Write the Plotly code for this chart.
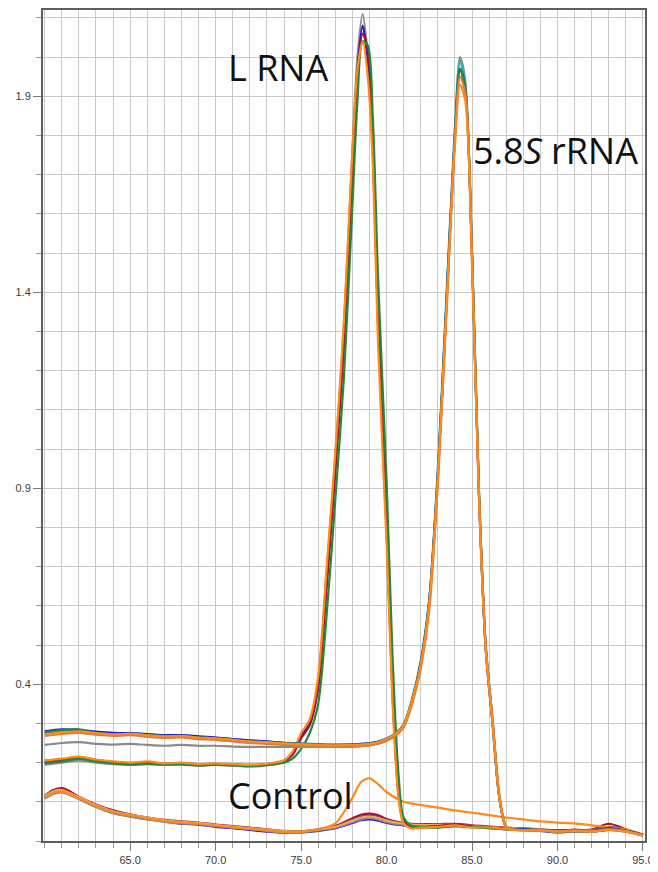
import plotly.graph_objects as go

# ---------------- data ----------------
# L RNA amplicon curves
xL = [60, 61, 62, 63, 64, 65, 66, 67, 68, 69, 70, 71, 72, 73, 74, 74.5, 75, 75.5, 76, 76.5, 77, 77.5,
      78, 78.3, 78.6, 78.9, 79.2, 79.5, 80, 80.35, 80.7, 81, 81.5, 82, 83, 84, 85, 86, 87, 88, 89, 90,
      91, 92, 93, 94, 95]
L_gray = [0.195, 0.2, 0.205, 0.2, 0.196, 0.194, 0.196, 0.194, 0.195, 0.192, 0.194, 0.192, 0.19, 0.193, 0.202, 0.22,
          0.265, 0.30, 0.41, 0.69, 0.98, 1.31, 1.76, 2.00, 2.11, 2.0, 1.78, 1.33, 0.80, 0.37, 0.12, 0.048, 0.035,
          0.034, 0.035, 0.038, 0.035, 0.033, 0.029, 0.028, 0.027, 0.024, 0.026, 0.024, 0.028, 0.024, 0.014]
L_blue = [0.205, 0.208, 0.214, 0.207, 0.201, 0.199, 0.201, 0.197, 0.199, 0.196, 0.197, 0.195, 0.194, 0.196, 0.205, 0.224,
          0.268, 0.30, 0.40, 0.67, 0.96, 1.28, 1.73, 1.97, 2.08, 1.99, 1.76, 1.32, 0.80, 0.38, 0.12, 0.05, 0.036,
          0.035, 0.037, 0.041, 0.036, 0.034, 0.031, 0.03, 0.027, 0.025, 0.027, 0.025, 0.031, 0.025, 0.015]
L_red = [0.2, 0.206, 0.211, 0.206, 0.2, 0.197, 0.2, 0.197, 0.197, 0.195, 0.196, 0.195, 0.193, 0.195, 0.204, 0.22,
         0.262, 0.295, 0.39, 0.65, 0.94, 1.26, 1.71, 1.95, 2.06, 2.02, 1.80, 1.36, 0.83, 0.40, 0.13, 0.05, 0.037,
         0.036, 0.038, 0.042, 0.037, 0.035, 0.031, 0.029, 0.028, 0.026, 0.029, 0.026, 0.033, 0.026, 0.016]
L_green = [0.198, 0.203, 0.210, 0.203, 0.198, 0.195, 0.197, 0.195, 0.196, 0.193, 0.195, 0.193, 0.191, 0.194, 0.2, 0.21,
           0.235, 0.275, 0.35, 0.58, 0.87, 1.18, 1.62, 1.89, 2.04, 2.03, 1.84, 1.44, 0.92, 0.47, 0.17, 0.06, 0.038,
           0.036, 0.034, 0.038, 0.036, 0.033, 0.03, 0.03, 0.028, 0.026, 0.027, 0.024, 0.029, 0.026, 0.016]
L_orange = [0.205, 0.210, 0.215, 0.208, 0.203, 0.200, 0.203, 0.198, 0.200, 0.196, 0.198, 0.196, 0.194, 0.197, 0.206, 0.228,
            0.275, 0.31, 0.42, 0.70, 0.99, 1.32, 1.76, 1.97, 2.04, 1.95, 1.72, 1.27, 0.76, 0.35, 0.11, 0.045, 0.032,
            0.034, 0.036, 0.04, 0.034, 0.035, 0.03, 0.028, 0.027, 0.024, 0.028, 0.026, 0.03, 0.024, 0.015]

# 5.8S rRNA amplicon curves
xS = [60, 61, 62, 63, 64, 65, 66, 67, 68, 69, 70, 71, 72, 73, 74, 75, 76, 77, 78, 79, 79.5, 80, 80.5, 81, 81.5,
      82, 82.5, 83, 83.5, 84, 84.3, 84.6, 85, 85.4, 85.8, 86.2, 86.6, 87, 87.5, 88, 89, 90, 91, 92, 93, 94, 95]
S_gray = [0.245, 0.25, 0.252, 0.248, 0.246, 0.248, 0.245, 0.243, 0.245, 0.243, 0.243, 0.241, 0.24, 0.24, 0.24, 0.24,
          0.24, 0.24, 0.241, 0.244, 0.248, 0.256, 0.268, 0.292, 0.355, 0.45, 0.61, 0.93, 1.37, 1.82, 2.00, 1.94, 1.50,
          0.90, 0.50, 0.31, 0.11, 0.035, 0.028, 0.027, 0.026, 0.024, 0.026, 0.024, 0.028, 0.024, 0.014]
S_teal = [0.275, 0.28, 0.282, 0.277, 0.274, 0.276, 0.272, 0.269, 0.27, 0.266, 0.264, 0.26, 0.256, 0.254, 0.251, 0.249,
          0.247, 0.246, 0.247, 0.25, 0.254, 0.262, 0.274, 0.298, 0.365, 0.46, 0.62, 0.95, 1.39, 1.82, 1.99, 1.93, 1.49,
          0.89, 0.49, 0.30, 0.11, 0.036, 0.03, 0.028, 0.027, 0.025, 0.026, 0.025, 0.03, 0.025, 0.015]
S_blue = [0.28, 0.285, 0.283, 0.279, 0.276, 0.275, 0.273, 0.27, 0.27, 0.267, 0.264, 0.26, 0.257, 0.254, 0.25, 0.248,
          0.246, 0.245, 0.246, 0.249, 0.253, 0.26, 0.272, 0.296, 0.36, 0.455, 0.615, 0.94, 1.37, 1.80, 1.97, 1.92, 1.49,
          0.89, 0.49, 0.30, 0.11, 0.036, 0.03, 0.029, 0.028, 0.026, 0.027, 0.026, 0.031, 0.026, 0.016]
S_green = [0.277, 0.283, 0.285, 0.276, 0.272, 0.273, 0.27, 0.268, 0.267, 0.264, 0.262, 0.258, 0.254, 0.252, 0.25, 0.248,
           0.246, 0.244, 0.245, 0.248, 0.252, 0.259, 0.27, 0.294, 0.358, 0.45, 0.61, 0.93, 1.36, 1.80, 1.97, 1.92, 1.50,
           0.90, 0.50, 0.31, 0.115, 0.037, 0.029, 0.028, 0.028, 0.025, 0.026, 0.025, 0.03, 0.025, 0.015]
S_brown = [0.268, 0.273, 0.276, 0.271, 0.268, 0.27, 0.266, 0.263, 0.264, 0.26, 0.258, 0.254, 0.25, 0.248, 0.245, 0.243,
           0.241, 0.24, 0.241, 0.244, 0.248, 0.256, 0.268, 0.29, 0.35, 0.44, 0.59, 0.91, 1.34, 1.79, 1.95, 1.91, 1.50,
           0.90, 0.50, 0.31, 0.12, 0.038, 0.029, 0.028, 0.028, 0.025, 0.027, 0.025, 0.03, 0.025, 0.015]
S_orange = [0.272, 0.277, 0.280, 0.275, 0.272, 0.274, 0.27, 0.267, 0.268, 0.264, 0.262, 0.258, 0.254, 0.252, 0.249, 0.247,
            0.245, 0.244, 0.245, 0.248, 0.252, 0.26, 0.272, 0.295, 0.36, 0.45, 0.61, 0.93, 1.36, 1.78, 1.93, 1.89, 1.47,
            0.88, 0.49, 0.30, 0.11, 0.035, 0.028, 0.027, 0.027, 0.024, 0.026, 0.024, 0.029, 0.024, 0.015]

# No-template control curves
xC = [60, 60.5, 61, 61.5, 62, 63, 64, 65, 66, 67, 68, 69, 70, 71, 72, 73, 74, 75, 76, 77, 78, 78.5, 79, 79.5, 80,
      81, 82, 83, 84, 85, 86, 87, 88, 89, 90, 91, 92, 93, 94, 95]
C_blue = [0.11, 0.122, 0.125, 0.118, 0.108, 0.088, 0.072, 0.063, 0.056, 0.05, 0.044, 0.042, 0.036, 0.033, 0.028, 0.024,
          0.021, 0.022, 0.026, 0.033, 0.046, 0.053, 0.055, 0.052, 0.046, 0.04, 0.039, 0.04, 0.042, 0.036, 0.034, 0.03,
          0.03, 0.026, 0.022, 0.024, 0.025, 0.028, 0.026, 0.015]
C_red = [0.115, 0.13, 0.135, 0.126, 0.113, 0.093, 0.078, 0.068, 0.06, 0.054, 0.05, 0.047, 0.042, 0.038, 0.034, 0.03,
         0.026, 0.025, 0.03, 0.038, 0.058, 0.067, 0.07, 0.066, 0.056, 0.046, 0.043, 0.043, 0.044, 0.04, 0.037, 0.034,
         0.032, 0.03, 0.027, 0.027, 0.029, 0.044, 0.03, 0.016]
C_green = [0.112, 0.125, 0.128, 0.12, 0.11, 0.09, 0.075, 0.066, 0.059, 0.052, 0.048, 0.045, 0.04, 0.036, 0.031, 0.027,
           0.023, 0.023, 0.028, 0.035, 0.05, 0.058, 0.061, 0.058, 0.05, 0.042, 0.04, 0.039, 0.04, 0.037, 0.035, 0.032,
           0.03, 0.028, 0.025, 0.025, 0.027, 0.03, 0.028, 0.015]
C_gray = [0.108, 0.12, 0.124, 0.117, 0.107, 0.087, 0.071, 0.062, 0.055, 0.049, 0.045, 0.043, 0.038, 0.034, 0.03, 0.026,
          0.022, 0.022, 0.027, 0.034, 0.048, 0.055, 0.058, 0.055, 0.048, 0.041, 0.039, 0.038, 0.039, 0.036, 0.034, 0.031,
          0.029, 0.027, 0.024, 0.024, 0.026, 0.029, 0.027, 0.014]
C_purple = [0.113, 0.126, 0.13, 0.121, 0.111, 0.091, 0.076, 0.066, 0.059, 0.052, 0.048, 0.045, 0.04, 0.036, 0.032, 0.028,
            0.024, 0.024, 0.028, 0.036, 0.054, 0.062, 0.064, 0.061, 0.053, 0.044, 0.042, 0.042, 0.043, 0.038, 0.036, 0.033,
            0.031, 0.029, 0.026, 0.026, 0.028, 0.036, 0.029, 0.016]
C_sandy = [0.114, 0.127, 0.13, 0.122, 0.112, 0.092, 0.076, 0.067, 0.06, 0.053, 0.049, 0.046, 0.041, 0.037, 0.033, 0.029,
           0.025, 0.024, 0.029, 0.036, 0.052, 0.06, 0.062, 0.059, 0.052, 0.044, 0.041, 0.041, 0.041, 0.038, 0.036, 0.033,
           0.031, 0.029, 0.026, 0.026, 0.028, 0.031, 0.029, 0.016]
C_orange = [0.11, 0.123, 0.126, 0.119, 0.109, 0.089, 0.074, 0.065, 0.058, 0.051, 0.047, 0.044, 0.039, 0.035, 0.031, 0.027,
            0.023, 0.024, 0.03, 0.045, 0.11, 0.15, 0.16, 0.145, 0.125, 0.10, 0.092, 0.085, 0.078, 0.072, 0.066, 0.06,
            0.055, 0.05, 0.047, 0.045, 0.04, 0.035, 0.03, 0.015]

x_tickvals = [65, 70, 75, 80, 85, 90, 95]
x_ticktext = ["65.0", "70.0", "75.0", "80.0", "85.0", "90.0", "95.0"]
y_tickvals = [0.4, 0.9, 1.4, 1.9]
y_ticktext = ["0.4", "0.9", "1.4", "1.9"]

# ---------------- figure ----------------
COL = {
    "gray": "#8a8a8a", "blue": "#1c1cd6", "red": "#a8122e", "green": "#1f8a3c",
    "orange": "#ff8a1c", "teal": "#2fb0b0", "brown": "#dd7a3c", "purple": "#6b2a8f", "sandy": "#f2a65a",
}

series = [
    (xC, C_blue, "blue"), (xC, C_red, "red"), (xC, C_green, "green"), (xC, C_gray, "gray"),
    (xC, C_purple, "purple"), (xC, C_sandy, "sandy"), (xC, C_orange, "orange"),
    (xL, L_gray, "gray"), (xL, L_blue, "blue"), (xL, L_red, "red"), (xL, L_green, "green"), (xL, L_orange, "orange"),
    (xS, S_gray, "gray"), (xS, S_teal, "teal"), (xS, S_blue, "blue"), (xS, S_green, "green"),
    (xS, S_brown, "brown"), (xS, S_orange, "orange"),
]

fig = go.Figure()
for xs, ys, c in series:
    fig.add_trace(go.Scatter(
        x=xs, y=ys, mode="lines",
        line=dict(color=COL[c], width=2.2, shape="spline", smoothing=0.8),
        showlegend=False, hoverinfo="skip",
    ))

ann_font = dict(family="Open Sans, Noto Sans, sans-serif", size=36, color="#111111")
fig.add_annotation(x=70.6, y=1.974, text="L RNA", showarrow=False, xanchor="left", yanchor="middle", font=ann_font)
fig.add_annotation(x=84.95, y=1.762, text="5.8<i>S</i> rRNA", showarrow=False, xanchor="left", yanchor="middle", font=ann_font)
fig.add_annotation(x=70.6, y=0.117, text="Control", showarrow=False, xanchor="left", yanchor="middle", font=ann_font)

tick_font = dict(family="Liberation Sans, Arial, sans-serif", size=11, color="#3a3a3a")
grid_col = "#c9c9c9"

fig.update_xaxes(
    range=[59.9, 95.12], tickmode="array", tickvals=x_tickvals, ticktext=x_ticktext,
    ticks="outside", ticklen=8, tickcolor="#777777", tickfont=tick_font,
    showgrid=True, gridcolor=grid_col, gridwidth=1,
    minor=dict(dtick=1, tick0=60, ticks="outside", ticklen=5, tickcolor="#999999",
               showgrid=True, gridcolor=grid_col, gridwidth=1),
    showline=True, linecolor="#5e5e5e", linewidth=2, mirror=True, zeroline=False,
)
fig.update_yaxes(
    range=[0, 2.12], tickmode="array", tickvals=y_tickvals, ticktext=y_ticktext,
    ticks="outside", ticklen=8, tickcolor="#777777", tickfont=tick_font,
    showgrid=True, gridcolor=grid_col, gridwidth=1,
    minor=dict(dtick=0.1, tick0=0, ticks="outside", ticklen=5, tickcolor="#999999",
               showgrid=True, gridcolor=grid_col, gridwidth=1),
    showline=True, linecolor="#5e5e5e", linewidth=2, mirror=True, zeroline=False,
)

# the page body adds an 8 px margin, so the figure is 8 px smaller than the window
fig.update_layout(
    width=650, height=864,
    margin=dict(l=35, r=13, t=2, b=31, autoexpand=False),
    paper_bgcolor="white", plot_bgcolor="white",
    showlegend=False,
)

fig.write_html("out.html")
